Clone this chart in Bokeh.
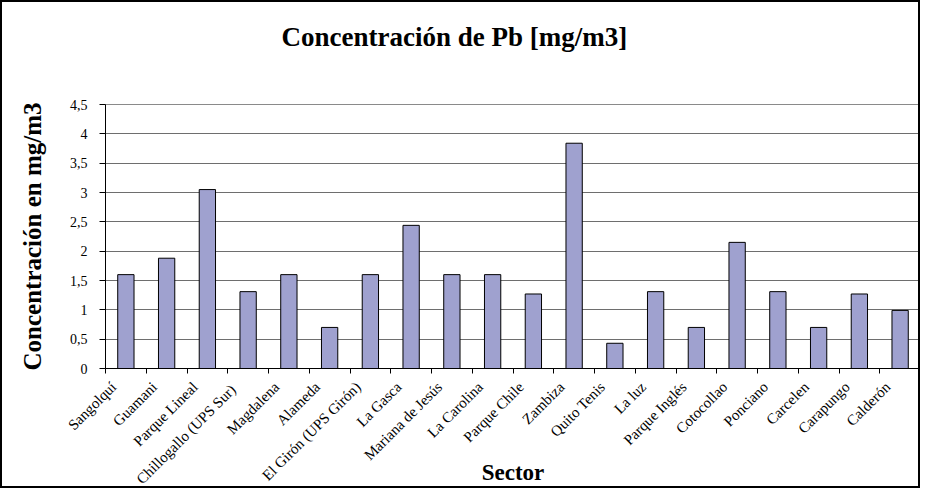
import math
from bokeh.plotting import figure
from bokeh.models import Range1d, FixedTicker, ColumnDataSource, Title, InlineStyleSheet
from bokeh.embed import file_html
from bokeh.resources import INLINE

title_text = "Concentración de Pb [mg/m3]"
x_title = "Sector"
y_title = "Concentración en mg/m3"

sectors = ["Sangolquí", "Guamani", "Parque Lineal", "Chillogallo  (UPS Sur)",
           "Magdalena", "Alameda", "El Girón (UPS Girón)", "La Gasca",
           "Mariana de Jesús", "La Carolina", "Parque Chile", "Zambiza",
           "Quito Tenis", "La luz", "Parque Inglés", "Cotocollao", "Ponciano",
           "Carcelen", "Carapungo", "Calderón"]
pb_values = [1.60, 1.88, 3.05, 1.31, 1.60, 0.70, 1.60, 2.44, 1.60, 1.60,
             1.27, 3.84, 0.43, 1.31, 0.70, 2.15, 1.31, 0.70, 1.27, 0.99]

y_ticks = [0, 0.5, 1, 1.5, 2, 2.5, 3, 3.5, 4, 4.5]
y_tick_labels = ["0", "0,5", "1", "1,5", "2", "2,5", "3", "3,5", "4", "4,5"]

FONT = "Liberation Serif"
n = len(sectors)
centers = [i + 0.5 for i in range(n)]
bounds = list(range(n + 1))
label_shift = 0.3  # Excel-style placement of slanted labels, left of the slot centre
label_pos = [round(c - label_shift, 2) for c in centers]

src = ColumnDataSource(dict(x=centers, top=pb_values, name=sectors))

p = figure(width=920, height=488, output_backend="svg", toolbar_location=None,
           x_range=Range1d(0, n), y_range=Range1d(0, 4.5),
           min_border_left=103, min_border_right=2, min_border_top=102,
           min_border_bottom=122)

p.stylesheets = [InlineStyleSheet(css=":host { border: 2px solid black; }")]

# empty spacer between plot area and the chart title, then the title itself
p.add_layout(Title(text=" ", text_font_size="1px", standoff=45), "above")
p.add_layout(Title(text=title_text, text_font=FONT, text_font_size="27px",
                   text_font_style="bold", text_color="black", align="left",
                   offset=176, vertical_align="bottom", standoff=10), "above")

p.vbar(x="x", top="top", width=0.4, source=src,
       fill_color="#9FA1CF", line_color="black", line_width=1)

p.outline_line_color = "#8a8a8a"
p.background_fill_color = "white"
p.border_fill_color = "white"

# x axis
xa = p.xaxis[0]
xa.ticker = FixedTicker(ticks=label_pos, minor_ticks=bounds)
xa.major_label_overrides = {c: s for c, s in zip(label_pos, sectors)}
xa.major_label_orientation = math.pi / 4
xa.major_tick_line_color = None
xa.minor_tick_in = 0
xa.minor_tick_out = 5
xa.minor_tick_line_color = "black"
xa.axis_line_color = "black"
xa.major_label_text_font = FONT
xa.major_label_text_font_size = "15px"
xa.major_label_text_color = "black"
xa.major_label_standoff = 10
xa.axis_label = x_title
xa.axis_label_text_font = FONT
xa.axis_label_text_font_size = "23px"
xa.axis_label_text_font_style = "bold"
xa.axis_label_text_color = "black"
xa.axis_label_standoff = -36
p.xgrid.visible = False

# y axis
ya = p.yaxis[0]
ya.ticker = FixedTicker(ticks=y_ticks, minor_ticks=[])
ya.major_label_overrides = {(int(t) if float(t).is_integer() else t): l
                            for t, l in zip(y_ticks, y_tick_labels)}
ya.major_tick_in = 0
ya.major_tick_out = 6
ya.major_tick_line_color = "black"
ya.axis_line_color = "black"
ya.major_label_text_font = FONT
ya.major_label_text_font_size = "14px"
ya.major_label_text_color = "black"
ya.major_label_standoff = 12
ya.axis_label = y_title
ya.axis_label_text_font = FONT
ya.axis_label_text_font_size = "25px"
ya.axis_label_text_font_style = "bold"
ya.axis_label_text_color = "black"
ya.axis_label_standoff = 21

p.ygrid.ticker = FixedTicker(ticks=y_ticks)
p.ygrid.grid_line_color = "#6e6e6e"
p.ygrid.grid_line_width = 1

open("out.html", "w").write(file_html(p, INLINE))
